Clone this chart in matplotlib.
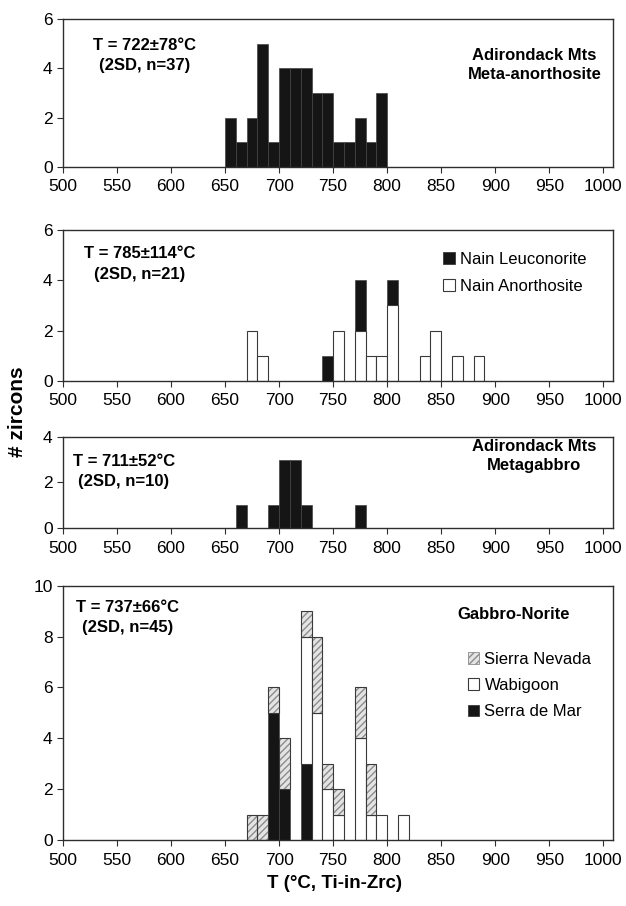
"""Ti-in-zircon temperature histograms for anorthosite / gabbro suites.

Four stacked panels sharing a 500-1000 degC axis, 10 degC bins.
"""

import matplotlib
matplotlib.use("Agg")
import matplotlib.pyplot as plt
from matplotlib.patches import Patch

plt.rcParams["font.family"] = ["Liberation Sans", "DejaVu Sans"]

# 10 degC bins, left edges 650 .. 880
BIN_LEFT = list(range(650, 890, 10))

# Adirondack Mts meta-anorthosite (n=37)
ADK_ANORTHOSITE = [2, 1, 2, 5, 1, 4, 4, 4, 3, 3, 1, 1, 2, 1, 3, 0, 0, 0, 0, 0, 0, 0, 0, 0]

# Nain (n=21): anorthosite at the bottom, leuconorite stacked on top
NAIN_ANORTHOSITE = [0, 0, 2, 1, 0, 0, 0, 0, 0, 0, 2, 0, 2, 1, 1, 3, 0, 0, 1, 2, 0, 1, 0, 1]
NAIN_LEUCONORITE = [0, 0, 0, 0, 0, 0, 0, 0, 0, 1, 0, 0, 2, 0, 0, 1, 0, 0, 0, 0, 0, 0, 0, 0]

# Adirondack Mts metagabbro (n=10)
ADK_METAGABBRO = [0, 1, 0, 0, 1, 3, 3, 1, 0, 0, 0, 0, 1, 0, 0, 0, 0, 0, 0, 0, 0, 0, 0, 0]

# Gabbro-norite (n=45): Serra de Mar / Wabigoon / Sierra Nevada stacked bottom-up
SERRA_DE_MAR = [0, 0, 0, 0, 5, 2, 0, 3, 0, 0, 0, 0, 0, 0, 0, 0, 0, 0, 0, 0, 0, 0, 0, 0]
WABIGOON = [0, 0, 0, 0, 0, 0, 0, 5, 5, 2, 1, 0, 4, 1, 1, 0, 1, 0, 0, 0, 0, 0, 0, 0]
SIERRA_NEVADA = [0, 0, 1, 1, 1, 2, 0, 1, 3, 1, 1, 0, 2, 2, 0, 0, 0, 0, 0, 0, 0, 0, 0, 0]

X_TICKS = list(range(500, 1001, 50))

BLACK = "#151515"
EDGE = "#3a3a3a"
HATCH_FACE = "#e4e4e4"
HATCH_LINE = "#8c8c8c"
SPINE = "#2e2e2e"

TXT = 12
TICK_FS = 12.5


def stack(ax, values, bottom, kind):
    """Draw one layer of a stacked histogram, skipping empty bins."""
    xs = [x for x, v in zip(BIN_LEFT, values) if v > 0]
    hs = [v for v in values if v > 0]
    bs = [b for b, v in zip(bottom, values) if v > 0]
    if kind == "black":
        ax.bar(xs, hs, width=10, bottom=bs, align="edge",
               color=BLACK, edgecolor="#444444", linewidth=0.5)
    elif kind == "white":
        ax.bar(xs, hs, width=10, bottom=bs, align="edge",
               color="white", edgecolor=EDGE, linewidth=0.8)
    else:
        # hatch lines take the edge colour, so draw outline separately
        ax.bar(xs, hs, width=10, bottom=bs, align="edge",
               color=HATCH_FACE, edgecolor=HATCH_LINE, linewidth=0, hatch="/////")
        ax.bar(xs, hs, width=10, bottom=bs, align="edge",
               fill=False, edgecolor=EDGE, linewidth=0.8)
    return [b + v for b, v in zip(bottom, values)]


def style(ax, ymax, ystep):
    ax.set_xlim(500, 1009)
    ax.set_ylim(0, ymax)
    ax.set_xticks(X_TICKS)
    ax.set_yticks(range(0, ymax + 1, ystep))
    ax.tick_params(labelsize=TICK_FS, length=4, width=0.8, color=SPINE)
    ax.tick_params(axis="x", pad=5)
    for s in ax.spines.values():
        s.set_color(SPINE)
        s.set_linewidth(1.0)


def stat_text(ax, x, y, t, sd, n):
    ax.text(x, y, f"T = {t}±{sd}°C\n(2SD, n={n})", transform=ax.transAxes,
            ha="center", va="center", fontsize=TXT, fontweight="bold",
            linespacing=1.45)


fig = plt.figure(figsize=(6.26, 9.06), dpi=100)

L, W = 0.1006, 0.8786
ax1 = fig.add_axes([L, 0.8157, W, 0.1634])
ax2 = fig.add_axes([L, 0.5795, W, 0.1667])
ax3 = fig.add_axes([L, 0.4172, W, 0.1008])
ax4 = fig.add_axes([L, 0.0728, W, 0.2807])

zero = [0] * len(BIN_LEFT)

# panel 1
stack(ax1, ADK_ANORTHOSITE, zero, "black")
style(ax1, 6, 2)
stat_text(ax1, 0.148, 0.755, 722, 78, 37)
ax1.text(0.857, 0.69, "Adirondack Mts\nMeta-anorthosite", transform=ax1.transAxes,
         ha="center", va="center", fontsize=TXT, fontweight="bold", linespacing=1.35)

# panel 2
top = stack(ax2, NAIN_ANORTHOSITE, zero, "white")
stack(ax2, NAIN_LEUCONORITE, top, "black")
style(ax2, 6, 2)
stat_text(ax2, 0.14, 0.775, 785, 114, 21)
ax2.legend(handles=[Patch(facecolor=BLACK, edgecolor=EDGE, linewidth=0.6),
                    Patch(facecolor="white", edgecolor=EDGE, linewidth=0.8)],
           labels=["Nain Leuconorite", "Nain Anorthosite"],
           loc="upper left", bbox_to_anchor=(0.691, 0.857), frameon=False,
           fontsize=TXT, handlelength=0.7, handleheight=0.7, handletextpad=0.3,
           labelspacing=0.72, borderpad=0, borderaxespad=0)

# panel 3
stack(ax3, ADK_METAGABBRO, zero, "black")
style(ax3, 4, 2)
stat_text(ax3, 0.111, 0.62, 711, 52, 10)
ax3.text(0.857, 0.79, "Adirondack Mts\nMetagabbro", transform=ax3.transAxes,
         ha="center", va="center", fontsize=TXT, fontweight="bold", linespacing=1.35)

# panel 4
top = stack(ax4, SERRA_DE_MAR, zero, "black")
top = stack(ax4, WABIGOON, top, "white")
stack(ax4, SIERRA_NEVADA, top, "hatch")
style(ax4, 10, 2)
stat_text(ax4, 0.118, 0.875, 737, 66, 45)
ax4.text(0.82, 0.885, "Gabbro-Norite", transform=ax4.transAxes,
         ha="center", va="center", fontsize=TXT, fontweight="bold")
ax4.legend(handles=[Patch(facecolor=HATCH_FACE, edgecolor=HATCH_LINE, hatch="/////", linewidth=0.6),
                    Patch(facecolor="white", edgecolor=EDGE, linewidth=0.8),
                    Patch(facecolor=BLACK, edgecolor=EDGE, linewidth=0.6)],
           labels=["Sierra Nevada", "Wabigoon", "Serra de Mar"],
           loc="upper left", bbox_to_anchor=(0.736, 0.741), frameon=False,
           fontsize=TXT, handlelength=0.7, handleheight=0.7, handletextpad=0.3,
           labelspacing=0.68, borderpad=0, borderaxespad=0)

fig.text(0.028, 0.546, "# zircons", rotation=90, ha="center", va="center",
         fontsize=15, fontweight="bold")
fig.text(0.535, 0.025, "T (°C, Ti-in-Zrc)", ha="center", va="center",
         fontsize=13.5, fontweight="bold")

fig.savefig("out.png", dpi=100)
